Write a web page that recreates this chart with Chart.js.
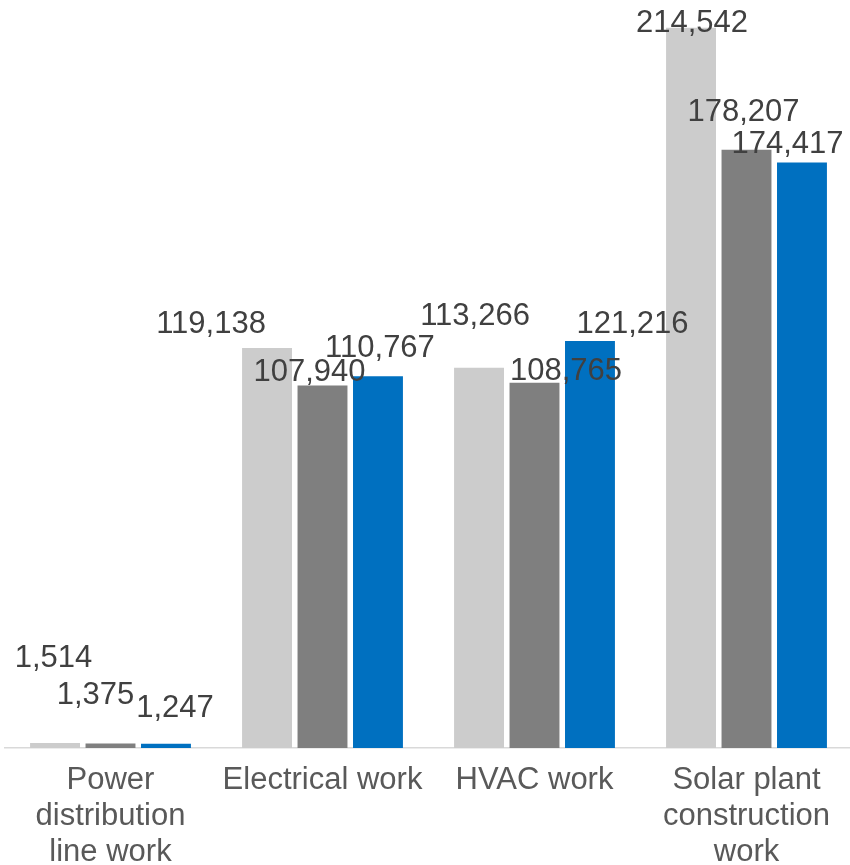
<!DOCTYPE html>
<html>
<head>
<meta charset="utf-8">
<script src="https://cdn.jsdelivr.net/npm/chart.js@4.4.1/dist/chart.umd.min.js"></script>
<style>
    html, body { margin: 0; padding: 0; background: #ffffff; overflow: hidden; }
    #contenedor { position: relative; width: 853px; height: 865px; }
</style>
</head>
<body>
<div id="contenedor">
    <canvas id="grafico-obras"></canvas>
</div>
<script>
// Categorías del eje X (cada una en varias líneas)
const categorias = [
    ['Power', 'distribution', 'line work'],
    'Electrical work',
    'HVAC work',
    ['Solar plant', 'construction', 'work']
];

// Valores de cada serie
const serieA = [1514, 119138, 113266, 214542];
const serieB = [1375, 107940, 108765, 178207];
const serieC = [1247, 110767, 121216, 174417];

// Desplazamiento de cada etiqueta respecto a la parte superior de su barra (px)
const desplazamientoX = [
    [-1.5, -56, -4, 1],
    [-15, -13, 31.5, -3],
    [9, 2, 42.5, -14.5]
];
const desplazamientoY = [
    [-84, -24, -51.5, -4],
    [-47.5, -13.5, -11.5, -37],
    [-35.5, -28, -17, -17.5]
];

const fuente = '"Liberation Sans", Arial, sans-serif';

// Plugin para dibujar las etiquetas de valor sobre las barras
const etiquetasValor = {
    id: 'etiquetasValor',
    afterDatasetsDraw(chart) {
        const ctx = chart.ctx;
        ctx.save();
        ctx.font = '31px ' + fuente;
        ctx.fillStyle = '#404040';
        ctx.textAlign = 'center';
        ctx.textBaseline = 'middle';
        chart.data.datasets.forEach(function (ds, i) {
            const meta = chart.getDatasetMeta(i);
            meta.data.forEach(function (barra, j) {
                const texto = ds.data[j].toLocaleString('en-US');
                ctx.fillText(texto, barra.x + desplazamientoX[i][j], barra.y + desplazamientoY[i][j]);
            });
        });
        ctx.restore();
    }
};

document.addEventListener('DOMContentLoaded', function () {
    const ctx = document.getElementById('grafico-obras').getContext('2d');
    const grafico = new Chart(ctx, {
        type: 'bar',
        data: {
            labels: categorias,
            datasets: [
                { label: 'A', data: serieA, backgroundColor: '#cccccc' },
                { label: 'B', data: serieB, backgroundColor: '#7f7f7f' },
                { label: 'C', data: serieC, backgroundColor: '#0070c0' }
            ]
        },
        plugins: [etiquetasValor],
        options: {
            responsive: true,
            maintainAspectRatio: false,
            animation: false,
            layout: { padding: { left: 4.5, right: 0.5, top: 0, bottom: 0 } },
            datasets: {
                bar: { categoryPercentage: 0.785, barPercentage: 0.9 }
            },
            plugins: {
                legend: { display: false },
                tooltip: { enabled: false }
            },
            scales: {
                y: {
                    display: false,
                    min: 0,
                    max: 222800
                },
                x: {
                    grid: { display: false, drawTicks: false },
                    border: { display: true, color: '#d9d9d9', width: 1.5 },
                    ticks: {
                        color: '#595959',
                        font: { family: fuente, size: 31, lineHeight: 1.17 },
                        padding: 14,
                        maxRotation: 0,
                        minRotation: 0,
                        autoSkip: false
                    },
                    afterFit: function (eje) {
                        eje.height = 117;
                    }
                }
            }
        }
    });
});
</script>
</body>
</html>
